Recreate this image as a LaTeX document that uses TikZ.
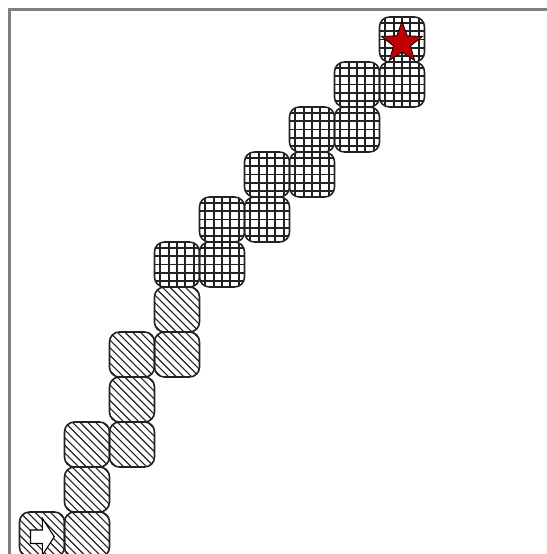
\documentclass[tikz,border=0pt]{standalone}
\usetikzlibrary{shapes.geometric, shapes.arrows}
\definecolor{cframe}{HTML}{808080}
\definecolor{cred}{HTML}{C00000}
\definecolor{cedge}{HTML}{222222}
\tikzset{
  every picture/.style={line width=0.8pt},
  cell/.style={draw=cedge, line width=1pt, rounded corners=0.22cm, minimum size=1cm, inner sep=0pt},
  gridcell/.style={cell, path picture={
    \foreach \d in {-0.37,-0.185,0,0.185,0.37}{
      \draw[line width=1.1pt] ([xshift=\d cm]path picture bounding box.north) -- ([xshift=\d cm]path picture bounding box.south);
      \draw[line width=1.1pt] ([yshift=\d cm]path picture bounding box.west) -- ([yshift=\d cm]path picture bounding box.east);
    }}},
  hatchcell/.style={cell, path picture={
    \foreach \c in {-1.19,-1.02,...,1.2}{
      \draw[line width=0.7pt] ([shift={(\c-0.6,0.6)}]path picture bounding box.center) -- ([shift={(\c+0.6,-0.6)}]path picture bounding box.center);
    }}},
  goal/.style={star, star points=5, star point ratio=2.4, minimum size=0.96cm, inner sep=0pt, fill=cred, draw=black, line width=0.5pt},
  start/.style={single arrow, single arrow head extend=0.26cm, single arrow tip angle=114,
    minimum height=0.53cm, inner xsep=0pt, inner ysep=0.138cm, fill=white, draw=black, line width=0.7pt},
}

\begin{document}
\begin{tikzpicture}
  \useasboundingbox (-0.933,-0.433) rectangle (11.222,11.878);
  % frame
  \draw[cframe, line width=1.4pt] (-0.722,-0.6) -- (-0.722,11.667) -- (11.4,11.667);
  % hatched part of the path
  \node[hatchcell] (h1) at (0,0) {};
  \node[hatchcell] (h2) at (1,0) {};
  \node[hatchcell] (h3) at (1,1) {};
  \node[hatchcell] (h4) at (1,2) {};
  \node[hatchcell] (h5) at (2,2) {};
  \node[hatchcell] (h6) at (2,3) {};
  \node[hatchcell] (h7) at (2,4) {};
  \node[hatchcell] (h8) at (3,4) {};
  \node[hatchcell] (h9) at (3,5) {};
  % grid part of the path
  \node[gridcell] (g1) at (3,6) {};
  \node[gridcell] (g2) at (4,6) {};
  \node[gridcell] (g3) at (4,7) {};
  \node[gridcell] (g4) at (5,7) {};
  \node[gridcell] (g5) at (5,8) {};
  \node[gridcell] (g6) at (6,8) {};
  \node[gridcell] (g7) at (6,9) {};
  \node[gridcell] (g8) at (7,9) {};
  \node[gridcell] (g9) at (7,10) {};
  \node[gridcell] (g10) at (8,10) {};
  \node[gridcell] (g11) at (8,11) {};
  % start and goal
  \node[start] (s) at ([shift={(-0.04,-0.05)}]h1.center) {};
  \node[goal] (t) at ([yshift=-0.08cm]g11.center) {};
\end{tikzpicture}
\end{document}
